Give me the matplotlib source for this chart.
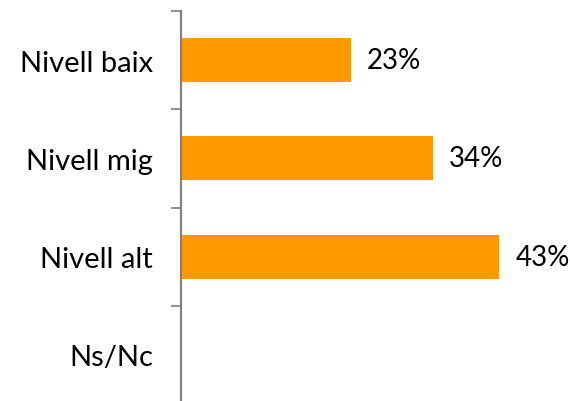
import matplotlib
matplotlib.use("Agg")
import matplotlib.pyplot as plt
from matplotlib.ticker import FixedLocator

categories = ["Nivell baix", "Nivell mig", "Nivell alt", "Ns/Nc"]
values = [23, 34, 43, 0]
labels = ["23%", "34%", "43%", ""]

plt.rcParams['font.family'] = ['Lato', 'DejaVu Sans']

fig = plt.figure(figsize=(5.7, 4.02), dpi=100)
ax = fig.add_axes([181/570, -3/402, 370/570, 393/402])

y = list(range(len(categories)))
ax.barh(y, values, height=0.45, color="#FF9900")
for yi, v, lab in zip(y, values, labels):
    if lab:
        ax.text(v + 16/7.4, yi, lab, va="center", ha="left", fontsize=20,
                color="#000000")

ax.set_xlim(0, 50)
ax.set_ylim(3.5, -0.5)
ax.set_yticks(y)
ax.set_yticklabels(categories, fontsize=21)
ax.yaxis.set_minor_locator(FixedLocator([-0.5, 0.5, 1.5, 2.5, 3.5]))
ax.tick_params(axis="y", which="major", length=0, pad=20)
ax.tick_params(axis="y", which="minor", length=7, width=1.2, color="#808080", direction="out")
ax.set_xticks([])
for s in ["top", "right", "bottom"]:
    ax.spines[s].set_visible(False)
ax.spines["left"].set_color("#808080")
ax.spines["left"].set_linewidth(1.5)

fig.savefig("out.png", dpi=100)
